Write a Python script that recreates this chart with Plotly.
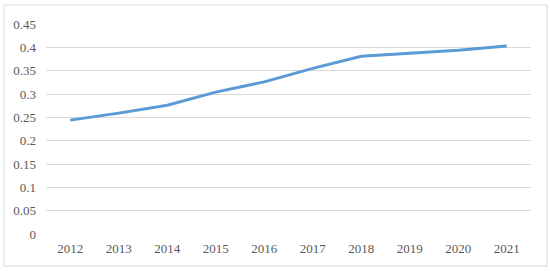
import plotly.graph_objects as go

years = ["2012", "2013", "2014", "2015", "2016", "2017", "2018", "2019", "2020", "2021"]
values = [0.244, 0.259, 0.276, 0.304, 0.326, 0.355, 0.381, 0.387, 0.394, 0.403]
y_ticks = [0, 0.05, 0.1, 0.15, 0.2, 0.25, 0.3, 0.35, 0.4, 0.45]
y_labels = ["0", "0.05", "0.1", "0.15", "0.2", "0.25", "0.3", "0.35", "0.4", "0.45"]

fig = go.Figure()
fig.add_trace(go.Scatter(x=years, y=values, mode="lines",
                         line=dict(color="#5b9bd5", width=3)))

font = dict(family="Times New Roman, Liberation Serif, DejaVu Serif, serif",
            size=13, color="#595959")

fig.update_layout(
    width=550, height=271,
    margin=dict(l=46, r=19, t=24, b=37, pad=0),
    paper_bgcolor="white", plot_bgcolor="white",
    showlegend=False,
    font=font,
    xaxis=dict(type="category", range=[-0.5, 9.5], showgrid=False,
               showline=False, zeroline=False, ticks="", tickfont=font,
               ticklabelstandoff=5, automargin=False),
    yaxis=dict(range=[0, 0.45], tickvals=y_ticks, ticktext=y_labels,
               showgrid=True, gridcolor="#d9d9d9", gridwidth=1,
               zeroline=False, showline=False, ticks="", tickfont=font,
               ticklabelstandoff=9, automargin=False),
    shapes=[dict(type="rect", xref="paper", yref="paper",
                 x0=(4 - 46) / 485, x1=(547 - 46) / 485,
                 y0=(234 - 266) / 210, y1=(234 - 5) / 210,
                 line=dict(color="#d9d9d9", width=1), layer="below")],
)

# drop the browser's default page margin so the figure sits at (0, 0)
fig.write_html("out.html", config={"displayModeBar": False},
               post_script="document.body.style.margin='0';")
